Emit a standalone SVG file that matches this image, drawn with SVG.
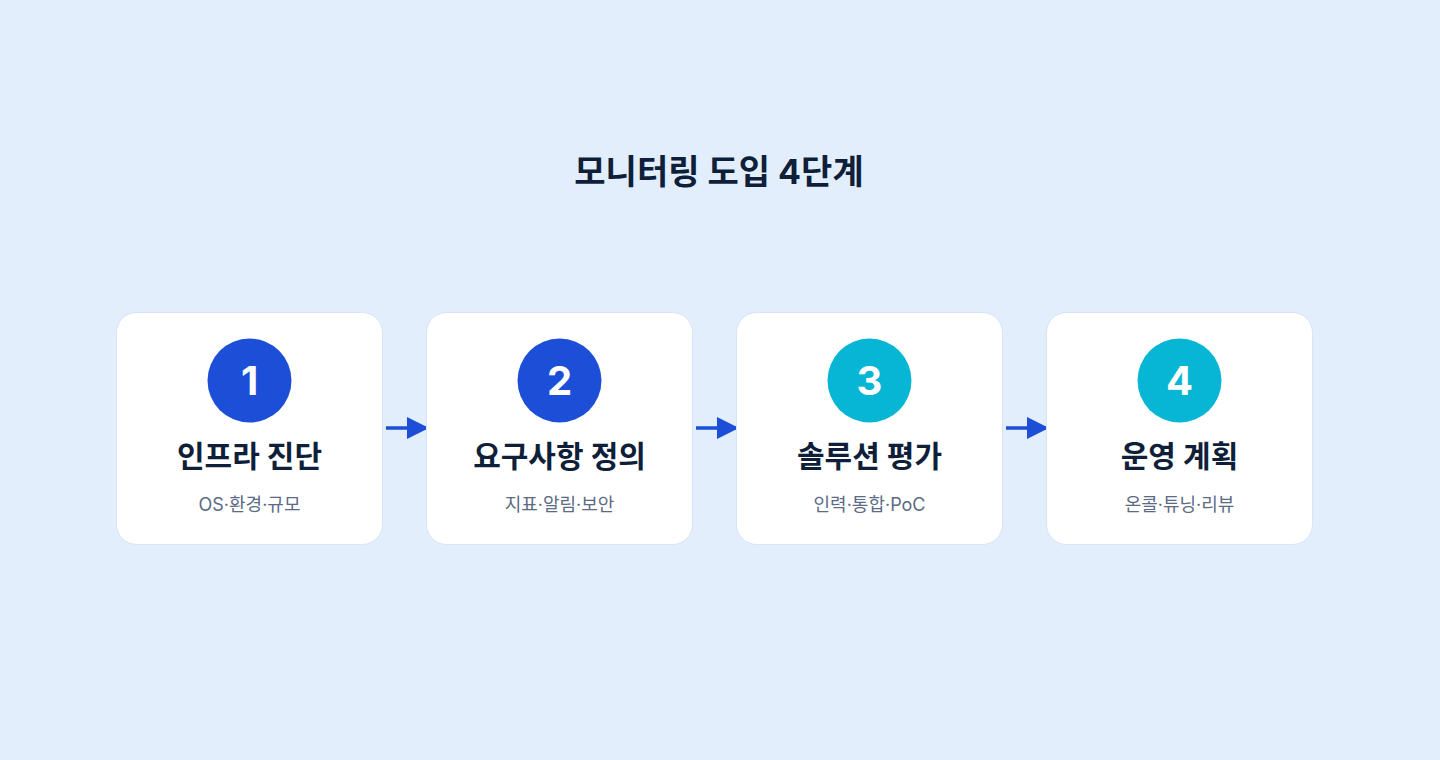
<svg xmlns="http://www.w3.org/2000/svg" width="1440" height="760" viewBox="0 0 1440 760">
<defs>
<style>
.bg{fill:#e3eefc}
.card{fill:#ffffff;stroke:#d8e3f3;stroke-width:1}
.c-blue{fill:#1d4ed8}
.c-cyan{fill:#07b6d5}
.num{font-family:Inter,"Liberation Sans","Noto Sans CJK KR",sans-serif;font-weight:700;font-size:40px;fill:#ffffff;text-anchor:middle}
.title{font-family:Inter,"Noto Sans CJK KR",sans-serif;font-weight:700;font-size:34px;fill:#0f1f3a;text-anchor:middle}
.head{font-family:Inter,"Noto Sans CJK KR",sans-serif;font-weight:700;font-size:30px;fill:#0f1f3a;text-anchor:middle}
.sub{font-family:Inter,"Noto Sans CJK KR",sans-serif;font-weight:400;font-size:18px;fill:#5b6b84;text-anchor:middle}
.conn{stroke:#1d4ed8;stroke-width:3.5;fill:none}
</style>
<marker id="arr" viewBox="0 0 22 22" refX="22" refY="11" markerWidth="22" markerHeight="22" markerUnits="userSpaceOnUse" orient="auto">
<path d="M0,0 L22,11 L0,22 Z" fill="#1d4ed8"/>
</marker>
</defs>
<rect class="bg" x="0" y="0" width="1440" height="760"/>
<text class="title" x="719" y="184">모니터링 도입 4단계</text>
<g id="connectors">
<line class="conn" x1="386" y1="428" x2="429" y2="428" marker-end="url(#arr)"/>
<line class="conn" x1="696" y1="428" x2="739" y2="428" marker-end="url(#arr)"/>
<line class="conn" x1="1006" y1="428" x2="1049" y2="428" marker-end="url(#arr)"/>
</g>
<g id="step1">
<rect class="card" x="116.5" y="312.5" width="266" height="232" rx="20"/>
<circle class="c-blue" cx="249.5" cy="380.5" r="42"/>
<text class="num" x="249.5" y="394.5">1</text>
<text class="head" x="249.5" y="467">인프라 진단</text>
<text class="sub" x="249.5" y="511">OS·환경·규모</text>
</g>
<g id="step2">
<rect class="card" x="426.5" y="312.5" width="266" height="232" rx="20"/>
<circle class="c-blue" cx="559.5" cy="380.5" r="42"/>
<text class="num" x="559.5" y="394.5">2</text>
<text class="head" x="559.5" y="467">요구사항 정의</text>
<text class="sub" x="559.5" y="511">지표·알림·보안</text>
</g>
<g id="step3">
<rect class="card" x="736.5" y="312.5" width="266" height="232" rx="20"/>
<circle class="c-cyan" cx="869.5" cy="380.5" r="42"/>
<text class="num" x="869.5" y="394.5">3</text>
<text class="head" x="869.5" y="467">솔루션 평가</text>
<text class="sub" x="869.5" y="511">인력·통합·PoC</text>
</g>
<g id="step4">
<rect class="card" x="1046.5" y="312.5" width="266" height="232" rx="20"/>
<circle class="c-cyan" cx="1179.5" cy="380.5" r="42"/>
<text class="num" x="1179.5" y="394.5">4</text>
<text class="head" x="1179.5" y="467">운영 계획</text>
<text class="sub" x="1179.5" y="511">온콜·튜닝·리뷰</text>
</g>
</svg>
